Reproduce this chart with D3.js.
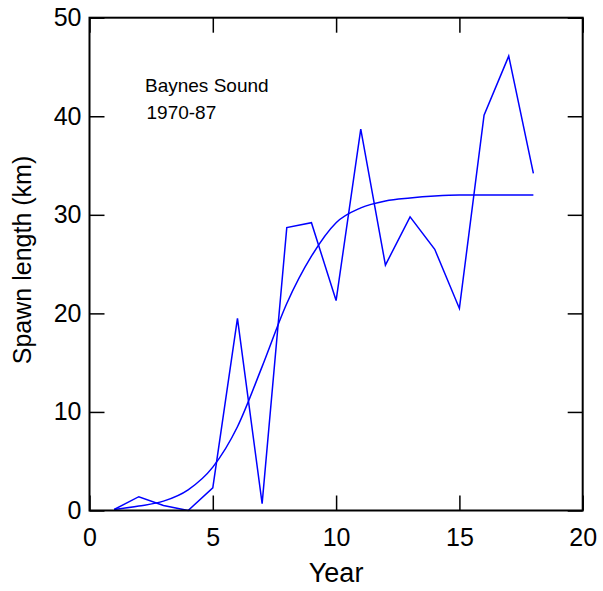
<!DOCTYPE html>
<html><head><meta charset="utf-8">
<script src="https://cdn.jsdelivr.net/npm/d3@7"></script>
<style>body{margin:0;background:#fff}svg{display:block}text{font-family:"Liberation Sans",Arial,sans-serif;fill:#000}</style>
</head><body><svg id="c" width="603" height="591"></svg>
<script>
const years = [1,2,3,4,5,6,7,8,9,10,11,12,13,14,15,16,17,18];
const spawnLength = [0.1,1.4,0.5,0.0,2.3,19.5,0.7,28.7,29.2,21.3,38.7,24.9,29.8,26.5,20.5,40.1,46.1,34.2];
const fitted = [0.1,0.45,0.95,2.1,4.4,8.5,14.6,21.0,25.8,29.2,30.7,31.4,31.7,31.9,32.0,32.0,32.0,32.0];
const xTicks = [0,5,10,15,20];
const yTicks = [0,10,20,30,40,50];
const annotation = ["Baynes Sound","1970-87"];

const svg = d3.select("#c");
const L=89.5, R=582.7, T=17.7, B=510.5;
const x = d3.scaleLinear().domain([0,20]).range([L,R]);
const y = d3.scaleLinear().domain([0,50]).range([B,T]);

const line = d3.line().x((d,i)=>x(years[i])).y(d=>y(d));
svg.append("path").datum(spawnLength).attr("d",line)
  .attr("fill","none").attr("stroke","#0000ff").attr("stroke-width",1.5).attr("stroke-linejoin","miter");
svg.append("path").datum(fitted).attr("d",line.curve(d3.curveMonotoneX))
  .attr("fill","none").attr("stroke","#0000ff").attr("stroke-width",1.5);

const tl = 15;
const fmt = d3.format("d");
const gB = svg.append("g").attr("transform",`translate(0,${B})`)
  .call(d3.axisBottom(x).tickValues(xTicks).tickSize(-tl).tickPadding(18).tickFormat(fmt));
const gL = svg.append("g").attr("transform",`translate(${L},0)`)
  .call(d3.axisLeft(y).tickValues(yTicks).tickSize(-tl).tickPadding(8).tickFormat(fmt));
const gT = svg.append("g").attr("transform",`translate(0,${T})`)
  .call(d3.axisTop(x).tickValues(xTicks).tickSize(-tl).tickFormat(""));
const gR = svg.append("g").attr("transform",`translate(${R},0)`)
  .call(d3.axisRight(y).tickValues(yTicks).tickSize(-tl).tickFormat(""));
[gB,gL,gT,gR].forEach(g=>{
  g.select(".domain").remove();
  g.selectAll(".tick line").attr("stroke","#000").attr("stroke-width",1.5);
});
[gB,gL].forEach(g=>g.selectAll("text").attr("font-size",25)
  .attr("font-family","Liberation Sans, Arial, sans-serif").attr("fill","#000"));

svg.append("rect").attr("x",L).attr("y",T).attr("width",R-L).attr("height",B-T)
  .attr("fill","none").attr("stroke","#000").attr("stroke-width",2);

svg.append("text").attr("x",(L+R)/2).attr("y",581.5).attr("text-anchor","middle")
  .attr("font-size",27).text("Year");
svg.append("text").attr("transform",`translate(31,260) rotate(-90)`).attr("text-anchor","middle")
  .attr("font-size",25).text("Spawn length (km)");

svg.append("text").attr("x",145).attr("y",91.5).attr("font-size",19).text(annotation[0]);
svg.append("text").attr("x",146.5).attr("y",119.3).attr("font-size",19).text(annotation[1]);
</script></body></html>
